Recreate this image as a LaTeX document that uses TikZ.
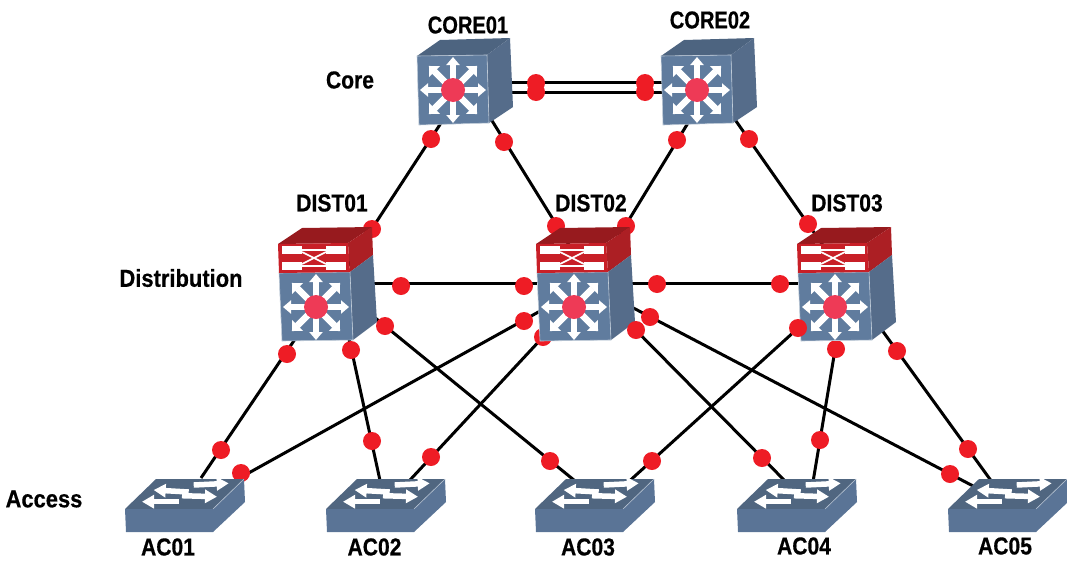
\documentclass[tikz,border=0pt]{standalone}
\usepackage{fontspec}
\newfontfamily\lblfont[FakeStretch=0.86,BoldFeatures={FakeBold=0.5}]{Liberation Sans}
\newfontfamily\lblcore[FakeStretch=0.82,BoldFeatures={FakeBold=0.5}]{Liberation Sans}
\newfontfamily\lblwide[FakeStretch=0.895,BoldFeatures={FakeBold=0.5}]{Liberation Sans}
\usetikzlibrary{arrows.meta}
\definecolor{swfront}{HTML}{607C9E}
\definecolor{swright}{HTML}{556C8A}
\definecolor{swtop}{HTML}{4D6480}
\definecolor{acfront}{HTML}{5A7496}
\definecolor{actop}{HTML}{506680}
\definecolor{dotred}{HTML}{EE1C25}
\definecolor{hubred}{HTML}{EE3A56}
\definecolor{rfront}{HTML}{C81F27}
\definecolor{rright}{HTML}{AC1F24}
\definecolor{rtop}{HTML}{971A1E}
\tikzset{
  link/.style={line width=3pt,black},
  dot/.style={circle,fill=dotred,minimum size=18pt,inner sep=0pt},
  lbl/.style={font=\lblfont\bfseries\fontsize{24.5}{26}\selectfont,inner sep=0pt,text=black},
  lblc/.style={font=\lblcore\bfseries\fontsize{24.5}{26}\selectfont,inner sep=0pt,text=black},
  lblw/.style={font=\lblwide\bfseries\fontsize{24.5}{26}\selectfont,inner sep=0pt,text=black},
  ray/.style={white,line width=5.5pt,-{Triangle[width=13pt,length=8pt]}},
  rayd/.style={white,line width=6.5pt,-{Triangle[width=15pt,length=8pt]}},
  acray/.style={white,line width=5.5pt,-{Triangle[width=13pt,length=12pt]}},
  edge/.style={draw=white!60!swfront,line width=0.6pt}
}
\newcommand{\hubstar}{%
  \foreach \a in {0,90,180,270}
    \draw[ray] (\a:10) -- (\a:33);
  \foreach \a in {45,135,225,315}
    \draw[rayd] (\a:10) -- (\a:34);
  \fill[hubred] (0,0) circle (12);
}
\newcommand{\coresw}[2]{%
  \begin{scope}[shift={(#1,#2)}]
    \fill[swtop] (-36,-34) -- (-13,-50) -- (57,-52) -- (34,-35) -- cycle;
    \fill[swright] (34,-35) -- (57,-52) -- (60,17) -- (36,33) -- cycle;
    \filldraw[edge,fill=swfront] (-36,-34) -- (34,-35) -- (36,33) -- (-34,35) -- cycle;
    \hubstar
  \end{scope}}
\newcommand{\distsw}[2]{%
  \begin{scope}[shift={(#1,#2)}]
    \fill[rtop] (-38,-63) -- (-14,-79) -- (56,-80) -- (32,-64) -- cycle;
    \fill[rright] (32,-64) -- (56,-80) -- (57,-52) -- (34,-35) -- cycle;
    \fill[swright] (34,-35) -- (57,-52) -- (61,15) -- (37,33) -- cycle;
    \filldraw[edge,fill=swfront] (-37,-34) -- (34,-35) -- (37,33) -- (-34,34) -- cycle;
    \fill[rfront] (-38,-63) -- (32,-64) -- (34,-35) -- (-37,-34) -- cycle;
    \fill[white] (-34,-61) rectangle (-14,-53);
    \fill[white] (10,-61) rectangle (30,-53);
    \fill[white] (-34,-45) rectangle (-14,-37);
    \fill[white] (10,-45) rectangle (30,-37);
    \draw[white,line width=1.6pt] (-14,-57) -- (10,-57) (-14,-41) -- (10,-41)
      (-14,-55) -- (10,-43) (-14,-43) -- (10,-55);
    \hubstar
  \end{scope}}
\newcommand{\accsw}[2]{%
  \begin{scope}[shift={(#1,#2)}]
    \fill[actop] (0,0) -- (31,-30) -- (119,-30) -- (88,0) -- cycle;
    \fill[acfront] (88,0) -- (119,-30) -- (120,-7) -- (88,23) -- cycle;
    \fill[acfront] (0,0) -- (88,0) -- (88,23) -- (1,23) -- cycle;
    \draw[white!55!acfront,line width=0.6pt] (88,0) -- (119,-30);
    \draw[acray] (63.7,-17) -- (28.7,-19);
    \draw[acray] (68.7,-24) -- (103.7,-25.7);
    \draw[acray] (53.7,-7.3) -- (17,-7.3);
    \draw[acray] (57,-13.3) -- (92,-12.3);
  \end{scope}}
\begin{document}
\begin{tikzpicture}[x=1pt,y=-1pt]
\useasboundingbox (0,0) rectangle (1067,560);
% connector ends
\coordinate (c1a) at (480,82); \coordinate (c2a) at (680,82);
\coordinate (c1b) at (480,92); \coordinate (c2b) at (680,92);
\coordinate (c1d1) at (456,100); \coordinate (d1c1) at (330,293);
\coordinate (c1d2) at (473,90);  \coordinate (d2c1) at (603,300);
\coordinate (c2d2) at (702,100); \coordinate (d2c2) at (580,300);
\coordinate (c2d3) at (715,91);  \coordinate (d3c2) at (850,284);
\coordinate (d1h) at (340,283);  \coordinate (d2hl) at (560,283);
\coordinate (d2hr) at (600,283); \coordinate (d3h) at (830,283);
\coordinate (d1a1) at (310,317); \coordinate (a1d1) at (201,478);
\coordinate (d1a2) at (345,320); \coordinate (a2d1) at (381,485);
\coordinate (d1a3) at (352,299); \coordinate (a3d1) at (580,485);
\coordinate (d2a1) at (560,300); \coordinate (a1d2) at (236,480);
\coordinate (d2a2) at (570,308); \coordinate (a2d2) at (410,480);
\coordinate (d2a4) at (610,304); \coordinate (a4d2) at (788,484);
\coordinate (d2a5) at (620,301); \coordinate (a5d2) at (975,487);
\coordinate (d3a3) at (828,301); \coordinate (a3d3) at (625,485);
\coordinate (d3a4) at (840,320); \coordinate (a4d3) at (813,482);
\coordinate (d3a5) at (871,315); \coordinate (a5d3) at (992,482);
% connectors
\draw[link] (c1a) -- (c2a);
\draw[link] (c1b) -- (c2b);
\draw[link] (c1d1) -- (d1c1);
\draw[link] (c1d2) -- (d2c1);
\draw[link] (c2d2) -- (d2c2);
\draw[link] (c2d3) -- (d3c2);
\draw[link] (d1h) -- (d2hl);
\draw[link] (d2hr) -- (d3h);
\draw[link] (d1a1) -- (a1d1);
\draw[link] (d1a2) -- (a2d1);
\draw[link] (d1a3) -- (a3d1);
\draw[link] (d2a1) -- (a1d2);
\draw[link] (d2a2) -- (a2d2);
\draw[link] (d2a4) -- (a4d2);
\draw[link] (d2a5) -- (a5d2);
\draw[link] (d3a3) -- (a3d3);
\draw[link] (d3a4) -- (a4d3);
\draw[link] (d3a5) -- (a5d3);
% port dots behind the devices
\foreach \n/\x/\y in {p1/536/83,p2/536/92,p3/645/83,p4/645/92,
  p5/431/139,p6/504/142,p7/677/140,p8/749/139,
  p9/372/229,p10/556/226,p11/626/226,p12/808/224,
  p13/401/286,p14/524/286,p15/657/284,p16/780/284,
  p17/287/354,p18/351/350,p21/543/337,
  p25/836/349,p26/897/351,
  p27/221/450,p28/241/473,p29/372/441,p30/431/457,p31/550/461,
  p32/652/461,p33/762/458,p34/820/440,p35/950/474,p36/968/449}
  \node[dot] (\n) at (\x,\y) {};
% devices
\coresw{453}{90}
\coresw{697}{90}
\distsw{316}{307}
\distsw{574}{307}
\distsw{835}{307}
\accsw{125}{509}
\accsw{326}{509}
\accsw{535}{509}
\accsw{737}{509}
\accsw{948}{509}
% port dots over the devices
\foreach \n/\x/\y in {p19/385/326,p20/524/321,p22/636/330,p23/650/317,p24/798/328}
  \node[dot] (\n) at (\x,\y) {};
% labels
\node[lblc] (core1) at (468,25) {CORE01};
\node[lblc] (core2) at (710,20) {CORE02};
\node[lbl] (lcore) at (350,80) {Core};
\node[lbl] (dist1) at (332,203) {DIST01};
\node[lbl] (dist2) at (591,203) {DIST02};
\node[lbl] (dist3) at (847,203) {DIST03};
\node[lblw] (ldist) at (181,278) {Distribution};
\node[lblw] (lacc) at (44,499) {Access};
\node[lbl] (ac1) at (168,547) {AC01};
\node[lbl] (ac2) at (374.5,547) {AC02};
\node[lbl] (ac3) at (588,547) {AC03};
\node[lbl] (ac4) at (804,546) {AC04};
\node[lbl] (ac5) at (1005,546) {AC05};
\end{tikzpicture}
\end{document}
